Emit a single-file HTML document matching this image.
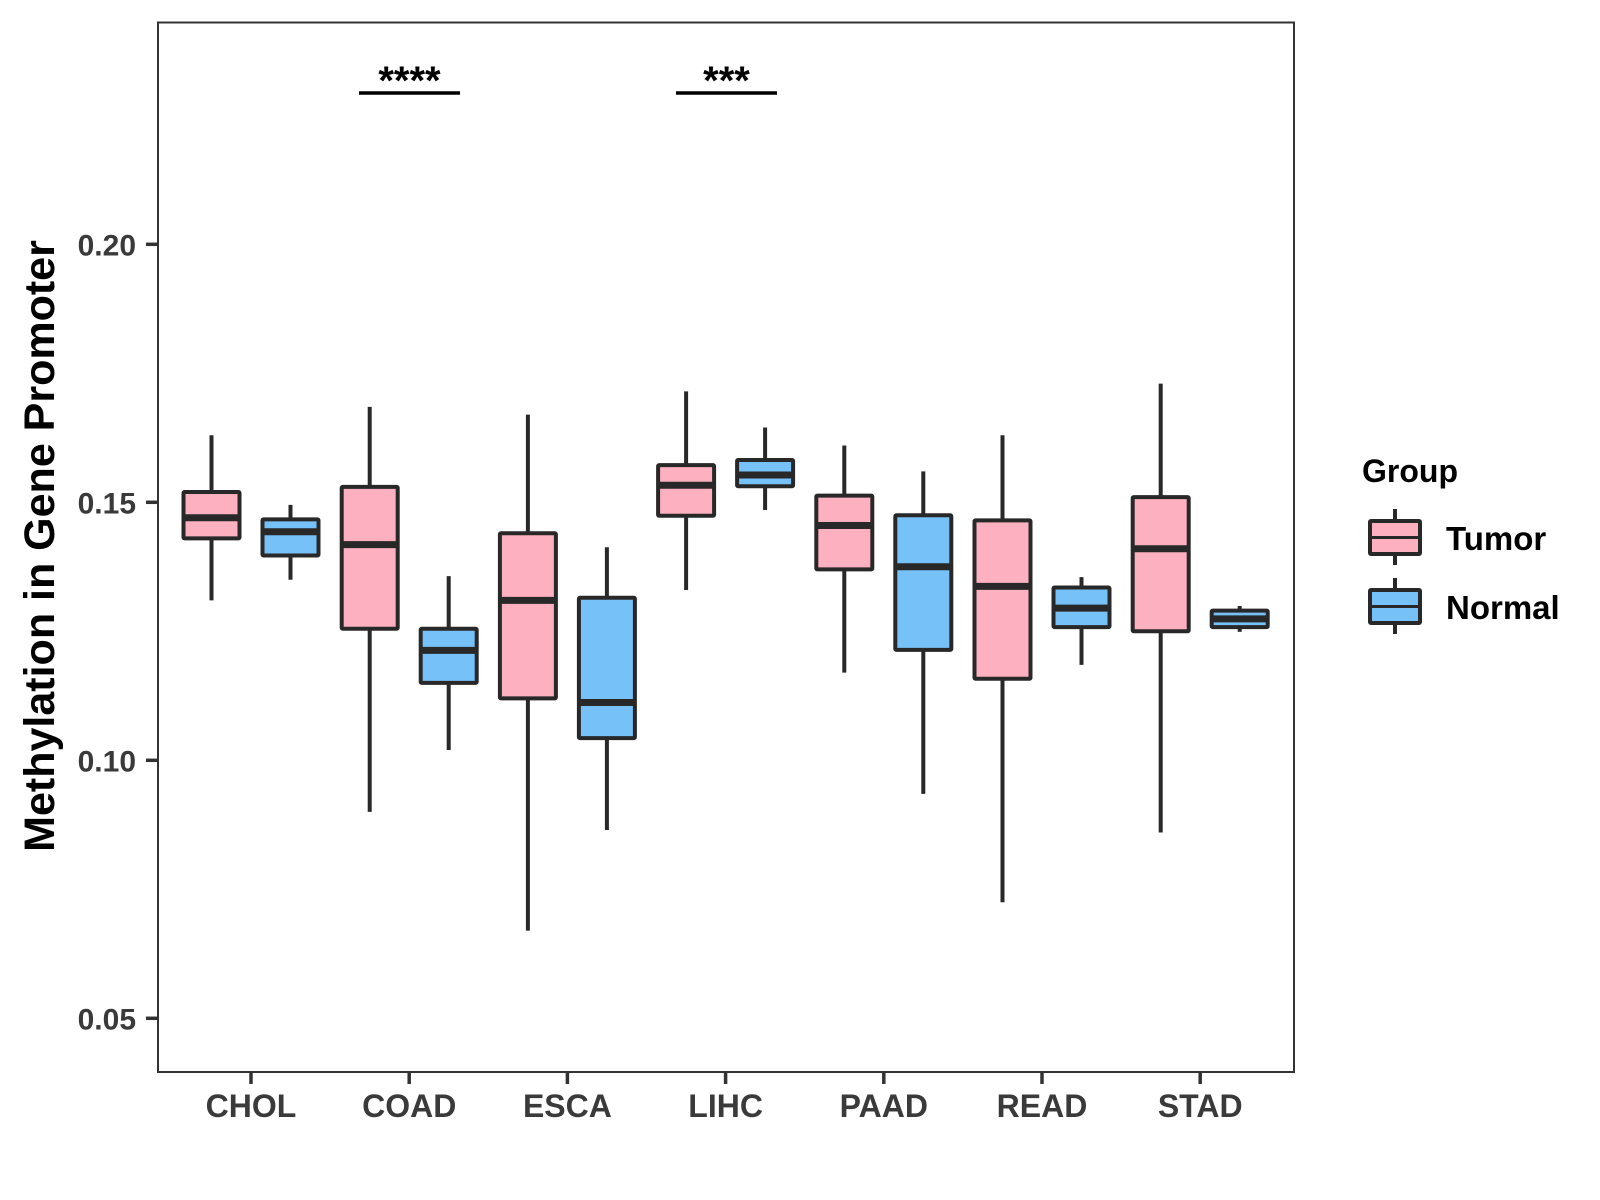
<!DOCTYPE html>
<html><head><meta charset="utf-8"><style>
html,body{margin:0;padding:0;background:#fff;}
svg{display:block;font-family:"Liberation Sans",sans-serif;font-weight:bold;}
</style></head><body>
<svg id="chart" width="1600" height="1200" viewBox="0 0 1600 1200">
<rect x="0" y="0" width="1600" height="1200" fill="#fff"/>
<rect x="158" y="22.5" width="1136" height="1049.5" fill="none" stroke="#333" stroke-width="2"/>
<g id="yaxis"></g>
<g id="xaxis"></g>
<g id="boxes"></g>
<text x="0" y="0" transform="translate(54,546) rotate(-90)" text-anchor="middle" font-size="43" fill="#000">Methylation in Gene Promoter</text>
<g>
<line x1="359" y1="93" x2="460" y2="93" stroke="#000" stroke-width="3.5"/>
<text x="409.5" y="94" text-anchor="middle" font-size="40" fill="#000">****</text>
</g>
<g>
<line x1="676" y1="93" x2="777" y2="93" stroke="#000" stroke-width="3.5"/>
<text x="726.5" y="94" text-anchor="middle" font-size="40" fill="#000">***</text>
</g>
<g>
<text x="1362" y="482" font-size="32" fill="#000">Group</text>
<g>
<line x1="1395" y1="509" x2="1395" y2="565" stroke="#282828" stroke-width="4"/>
<rect x="1370" y="521" width="50" height="33" fill="#FDB0C0" stroke="#282828" stroke-width="4" rx="1"/>
<line x1="1370" y1="537.5" x2="1420" y2="537.5" stroke="#282828" stroke-width="3"/>
<text x="1446" y="550" font-size="33" fill="#000">Tumor</text>
</g>
<g>
<line x1="1395" y1="578" x2="1395" y2="634" stroke="#282828" stroke-width="4"/>
<rect x="1370" y="590" width="50" height="33" fill="#77C1F9" stroke="#282828" stroke-width="4" rx="1"/>
<line x1="1370" y1="606.5" x2="1420" y2="606.5" stroke="#282828" stroke-width="3"/>
<text x="1446" y="619" font-size="33" fill="#000">Normal</text>
</g>
</g>
</svg>
<script>
const categories = ["CHOL","COAD","ESCA","LIHC","PAAD","READ","STAD"];
const yTicks = [0.05,0.10,0.15,0.20];
const yTickLabels = ["0.05","0.10","0.15","0.20"];
// [whiskerLow, q1, median, q3, whiskerHigh]
const tumorStats = [
  [0.131,0.143,0.147,0.152,0.163],
  [0.090,0.1255,0.1418,0.153,0.1685],
  [0.067,0.112,0.131,0.144,0.167],
  [0.133,0.1474,0.1533,0.1572,0.1715],
  [0.117,0.137,0.1455,0.1513,0.161],
  [0.0725,0.1158,0.1337,0.1465,0.163],
  [0.086,0.125,0.141,0.151,0.173]
];
const normalStats = [
  [0.135,0.1397,0.1443,0.1467,0.1495],
  [0.102,0.115,0.1213,0.1255,0.1357],
  [0.0865,0.1043,0.1112,0.1315,0.1413],
  [0.1485,0.1531,0.1553,0.1582,0.1645],
  [0.0935,0.1214,0.1375,0.1475,0.156],
  [0.1185,0.1258,0.1295,0.1335,0.1355],
  [0.1249,0.1258,0.1274,0.129,0.1299]
];
const NS="http://www.w3.org/2000/svg";
function yScale(v){return 244.3+(0.20-v)*5160;}
function xScale(i){return 251+i*158.2;}
function mk(tag,attrs,parent){const e=document.createElementNS(NS,tag);for(const k in attrs)e.setAttribute(k,attrs[k]);parent.appendChild(e);return e;}
const ya=document.getElementById('yaxis');
yTicks.forEach((t,i)=>{
  const y=yScale(t);
  const l=mk('line',{x1:146,x2:158,y1:y,y2:y,stroke:'#333','stroke-width':3.5},ya);
  
  
  const tx=mk('text',{x:136,y:y+11,'text-anchor':'end','font-size':30,fill:'#3a3a3a'},ya);
  tx.textContent=yTickLabels[i];
  
  
});
const xa=document.getElementById('xaxis');
categories.forEach((c,i)=>{
  const x=xScale(i);
  const l=mk('line',{x1:x,x2:x,y1:1072,y2:1084,stroke:'#333','stroke-width':3.5},xa);
  
  
  const tx=mk('text',{x:x,y:1117,'text-anchor':'middle','font-size':32,fill:'#3a3a3a'},xa);
  tx.textContent=c;
  
  
});
const bg=document.getElementById('boxes');
function drawBox(s,cx,fill,name){
  const g=mk('g',{},bg);
  
  
  const w=56;
  mk('line',{x1:cx,x2:cx,y1:yScale(s[0]),y2:yScale(s[4]),stroke:'#282828','stroke-width':4},g);
  mk('rect',{x:cx-w/2,y:yScale(s[3]),width:w,height:yScale(s[1])-yScale(s[3]),fill:fill,stroke:'#282828','stroke-width':4,rx:1},g);
  mk('line',{x1:cx-w/2,x2:cx+w/2,y1:yScale(s[2]),y2:yScale(s[2]),stroke:'#282828','stroke-width':7},g);
}
categories.forEach((c,i)=>{
  drawBox(tumorStats[i],xScale(i)-39.5,'#FDB0C0','box-tumor-'+c.toLowerCase());
  drawBox(normalStats[i],xScale(i)+39.5,'#77C1F9','box-normal-'+c.toLowerCase());
});
</script>
</body></html>
